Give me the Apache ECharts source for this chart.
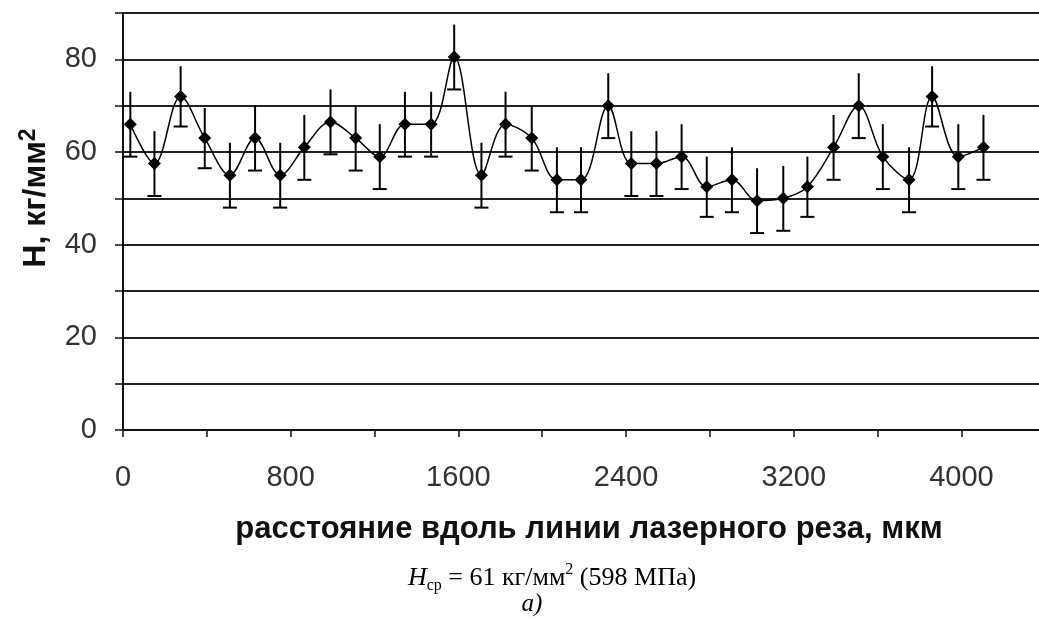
<!DOCTYPE html>
<html><head><meta charset="utf-8">
<script src="https://cdn.jsdelivr.net/npm/echarts@6/dist/echarts.min.js"></script>
<style>html,body{margin:0;padding:0;background:#fff;overflow:hidden}#c{width:1039px;height:621px}</style>
</head><body><div id="c"></div>
<script>
// distance along the laser cut line, µm
const positions = [35, 150, 275, 390, 510, 630, 750, 865, 990, 1110, 1225, 1345, 1470, 1580, 1710, 1825, 1950, 2070, 2185, 2315, 2425, 2545, 2665, 2785, 2905, 3025, 3150, 3265, 3390, 3510, 3625, 3750, 3860, 3985, 4105];
// hardness H, kg/mm2
const hardness = [66, 57.5, 72, 63, 55, 63, 55, 61, 66.5, 63, 59, 66, 66, 80.5, 55, 66, 63, 54, 54, 70, 57.5, 57.5, 59, 52.5, 54, 49.5, 50, 52.5, 61, 70, 59, 54, 72, 59, 61];
// error half-width
const errors = [7, 7, 6.5, 6.5, 7, 7, 7, 7, 7, 7, 7, 7, 7, 7, 7, 7, 7, 7, 7, 7, 7, 7, 7, 6.5, 7, 7, 7, 6.5, 7, 7, 7, 7, 6.5, 7, 7];
const xTicks = [0, 400, 800, 1200, 1600, 2000, 2400, 2800, 3200, 3600, 4000];
const xLabels = [0, 800, 1600, 2400, 3200, 4000];
const yLabels = [0, 20, 40, 60, 80];

const fam = '"Liberation Sans", Arial, sans-serif';
const serif = '"Liberation Serif", "Times New Roman", serif';

const errData = positions.map((x, i) => [x, hardness[i] - errors[i], hardness[i] + errors[i]]);
const lineData = positions.map((x, i) => [x, hardness[i]]);

const chart = echarts.init(document.getElementById('c'), null, {renderer: 'canvas'});
chart.setOption({
  backgroundColor: '#fff',
  animation: false,
  grid: {left: 123, right: 0, top: 13, bottom: 191, containLabel: false},
  xAxis: {
    type: 'value', min: 0, max: 4370, interval: 400,
    name: 'расстояние вдоль линии лазерного реза, мкм',
    nameLocation: 'middle', nameGap: 84,
    nameTextStyle: {fontFamily: fam, fontSize: 31, fontWeight: 'bold', color: '#111', padding: [0, 0, 0, 16]},
    axisLine: {show: true, lineStyle: {color: '#111', width: 2}},
    axisTick: {show: true, length: 7, customValues: xTicks, lineStyle: {color: '#111', width: 1.5}},
    axisLabel: {customValues: xLabels, margin: 33, fontFamily: fam, fontSize: 29, color: '#333',
      formatter: v => (xLabels.indexOf(v) >= 0 ? String(v) : '')},
    splitLine: {show: false}
  },
  yAxis: {
    type: 'value', min: 0, max: 90, interval: 10,
    axisLine: {show: true, lineStyle: {color: '#111', width: 2}},
    axisTick: {show: true, length: 8, lineStyle: {color: '#111', width: 1.5}},
    axisLabel: {margin: 26, fontFamily: fam, fontSize: 29, color: '#333',
      formatter: v => (yLabels.indexOf(v) >= 0 ? String(v) : '')},
    splitLine: {show: true, lineStyle: {color: '#222', width: 2.2}}
  },
  series: [
    {
      type: 'custom', z: 2,
      data: errData,
      encode: {x: 0, y: [1, 2]},
      renderItem: function (params, api) {
        const x = api.value(0), lo = api.value(1), hi = api.value(2);
        const pLo = api.coord([x, lo]), pHi = api.coord([x, hi]);
        const cap = 7;
        return {type: 'group', children: [
          {type: 'line', shape: {x1: pLo[0], y1: pLo[1], x2: pHi[0], y2: pHi[1]}, style: {stroke: '#000', lineWidth: 2}},
          {type: 'line', shape: {x1: pLo[0] - cap, y1: pLo[1], x2: pLo[0] + cap, y2: pLo[1]}, style: {stroke: '#000', lineWidth: 2}}
        ]};
      }
    },
    {
      type: 'line', z: 3, data: lineData, smooth: 0.35,
      symbol: 'diamond', symbolSize: 13, showSymbol: true,
      itemStyle: {color: '#000'},
      lineStyle: {color: '#000', width: 1.5}
    }
  ],
  graphic: [
    {
      type: 'text', x: 36, y: 198, rotation: Math.PI / 2,
      style: {
        text: '{a|H, кг/мм}{s|2}',
        align: 'center', verticalAlign: 'middle',
        rich: {
          a: {fontFamily: fam, fontSize: 32, fontWeight: 'bold', fill: '#111', lineHeight: 38},
          s: {fontFamily: fam, fontSize: 23, fontWeight: 'bold', fill: '#111', lineHeight: 23, verticalAlign: 'top'}
        }
      }
    },
    {
      type: 'text', x: 552, y: 578,
      style: {
        text: '{i|H}{b|ср}{n| = 61 кг/мм}{p|2}{n| (598 МПа)}',
        align: 'center', verticalAlign: 'middle',
        rich: {
          i: {fontFamily: serif, fontSize: 26, fontStyle: 'italic', fill: '#000', lineHeight: 32},
          b: {fontFamily: serif, fontSize: 16, fill: '#000', lineHeight: 16, verticalAlign: 'bottom'},
          n: {fontFamily: serif, fontSize: 26, fill: '#000', lineHeight: 32},
          p: {fontFamily: serif, fontSize: 16, fill: '#000', lineHeight: 16, verticalAlign: 'top'}
        }
      }
    },
    {
      type: 'text', x: 532, y: 604,
      style: {text: 'а)', fontFamily: serif, fontSize: 25, fontStyle: 'italic', fill: '#000', align: 'center', verticalAlign: 'middle'}
    }
  ]
});
</script>
</body></html>
